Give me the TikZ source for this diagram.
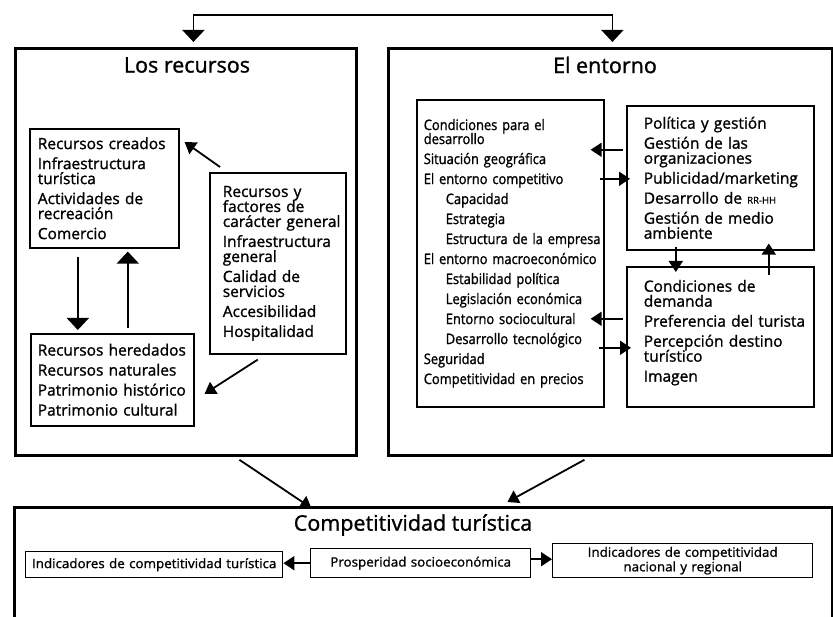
\documentclass[tikz,border=0pt]{standalone}
\usepackage{fontspec}
\setmainfont{Open Sans}[FakeBold=1.2]
\newfontfamily\condfont{Open Sans}[FakeStretch=0.89,FakeBold=1.2]
\newfontfamily\rowfont{Open Sans}[FakeStretch=1.03,FakeBold=1.2]
\newcommand{\boxfmt}[1]{\hyphenpenalty=10000 \exhyphenpenalty=10000 \lineskiplimit=-50pt \rightskip=-40pt plus 1fil \leftskip=#1 }
\usetikzlibrary{arrows.meta}
\begin{document}
\begin{tikzpicture}[x=1pt,y=-1pt,
  panel/.style={draw, line width=2.8pt, anchor=north west, inner sep=0pt},
  box/.style={draw, line width=1.6pt, anchor=north west, inner sep=0pt, align=left,
    font=\fontsize{15.5}{15}\selectfont},
  cbox/.style={box, font=\condfont\fontsize{14.5}{14}\selectfont},
  rowbox/.style={draw, line width=1.4pt, anchor=north west, inner sep=0pt, align=center,
    font=\rowfont\fontsize{13}{14.5}\selectfont},
  title/.style={font=\fontsize{21.5}{24}\selectfont, inner sep=0pt},
  arr/.style={line width=1.8pt, -{Triangle[width=14pt,length=11pt]}},
  bigarr/.style={line width=1.8pt, -{Triangle[width=22pt,length=12pt]}}
]
\useasboundingbox (0,0) rectangle (833,617);
\fill[white] (0,0) rectangle (833,617);

% panels
\node[panel, minimum width=341pt, minimum height=407pt] (recursos) at (14,47) {};
\node[panel, minimum width=444pt, minimum height=407pt] (entorno) at (387,47) {};
\node[panel, minimum width=818pt, minimum height=134pt] (compet) at (13,506) {};

\node[title] (trec) at (187,65) {Los recursos};
\node[title] (tent) at (605,65) {El entorno};
\node[title] (tcom) at (413,525) {Competitividad turística};

% left panel boxes
\node[box, text width=149pt, minimum height=119pt] (creados) at (29,128)
  {\boxfmt{8pt}Recursos creados\\[5pt] Infraestructura\\ turística\\[5pt] Actividades de\\ recreación\\[5pt] Comercio\par};
\node[box, text width=136pt, minimum height=181pt] (factores) at (209,172)
  {\boxfmt{13pt}Recursos y\\ factores de\\ carácter general\\[5pt] Infraestructura\\ general\\[5pt] Calidad de\\ servicios\\[5pt] Accesibilidad\\[5pt] Hospitalidad\par};
\node[box, text width=163pt, minimum height=92pt] (heredados) at (30,333)
  {\boxfmt{7pt}Recursos heredados\\[5pt] Recursos naturales\\[5pt] Patrimonio histórico\\[5pt] Patrimonio cultural\par};

% right panel boxes
\node[cbox, text width=187pt, minimum height=307pt] (condiciones) at (416,99)
  {\boxfmt{7pt}Condiciones para el\\ desarrollo\\[6pt] Situación geográfica\\[6pt] El entorno competitivo\\[6pt]
   \hspace*{22pt}Capacidad\\[6pt] \hspace*{22pt}Estrategia\\[6pt] \hspace*{22pt}Estructura de la empresa\\[6pt]
   El entorno macroeconómico\\[6pt] \hspace*{22pt}Estabilidad política\\[6pt] \hspace*{22pt}Legislación económica\\[6pt]
   \hspace*{22pt}Entorno sociocultural\\[6pt] \hspace*{22pt}Desarrollo tecnológico\\[6pt] Seguridad\\[6pt] Competitividad en precios\par};
\node[box, text width=187pt, minimum height=144pt] (politica) at (626,105)
  {\boxfmt{17pt}Política y gestión\\[5pt] Gestión de las\\ organizaciones\\[5pt] Publicidad/marketing\\[5pt]
   Desarrollo de {\fontsize{9.5}{9}\selectfont RR-HH}\\[5pt] Gestión de medio\\ ambiente\par};
\node[box, text width=187pt, minimum height=140pt] (demanda) at (626,266)
  {\boxfmt{17pt}Condiciones de\\ demanda\\[5pt] Preferencia del turista\\[5pt] Percepción destino\\ turístico\\[5pt] Imagen\\[-3pt]\mbox{}\par};

% bottom row
\node[rowbox, text width=257pt, minimum height=26pt] (indic) at (25,551) {\mbox{Indicadores de competitividad turística}};
\node[rowbox, text width=220pt, minimum height=29pt] (prosp) at (310,548) {Prosperidad socioeconómica};
\node[rowbox, text width=260pt, minimum height=34pt] (nacional) at (552,543)
  {Indicadores de competitividad\\ nacional y regional};

% top connector
\draw[line width=1.8pt, {Triangle[width=22pt,length=12pt]}-{Triangle[width=22pt,length=12pt]}]
  ([shift={(7.5,-5)}]recursos.north) -- ++(0,-27) -| ([shift={(2,-5)}]entorno.north);

% left panel arrows
\draw[arr] ([shift={(11,-5)}]factores.north west) -- ([shift={(5,14)}]creados.north east);
\draw[bigarr] ([shift={(-26.5,8)}]creados.south) -- ([shift={(-34.5,-3)}]heredados.north);
\draw[bigarr] ([shift={(15.5,-5)}]heredados.north) -- ([shift={(23.5,3)}]creados.south);
\draw[arr] ([shift={(-20,5)}]factores.south) -- ([shift={(10,14)}]heredados.east);

% right panel arrows
\draw[arr] ([shift={(-3,-28)}]politica.west) -- ([shift={(-14,-103.5)}]condiciones.east);
\draw[arr] ([shift={(-5,-74.5)}]condiciones.east) -- ([shift={(4,1)}]politica.west);
\draw[arr] ([shift={(-44.5,-4)}]politica.south) -- ([shift={(-44.5,6)}]demanda.north);
\draw[arr] ([shift={(48.5,9)}]demanda.north) -- ([shift={(48.5,-7)}]politica.south);
\draw[arr] ([shift={(-3,-18)}]demanda.west) -- ([shift={(-14,65.5)}]condiciones.east);
\draw[arr] ([shift={(-6,94.5)}]condiciones.east) -- ([shift={(5,11)}]demanda.west);

% arrows to competitividad
\draw[arr] ([shift={(53.5,3)}]recursos.south) -- ([shift={(-112,2)}]compet.north);
\draw[arr] ([shift={(-26,3)}]entorno.south) -- ([shift={(84,-4)}]compet.north);

% bottom row arrows
\draw[arr] (prosp.west) -- (prosp.west -| indic.east);
\draw[arr] ([yshift=4pt]prosp.east) -- ([yshift=4pt]prosp.east -| nacional.west);
\end{tikzpicture}
\end{document}
